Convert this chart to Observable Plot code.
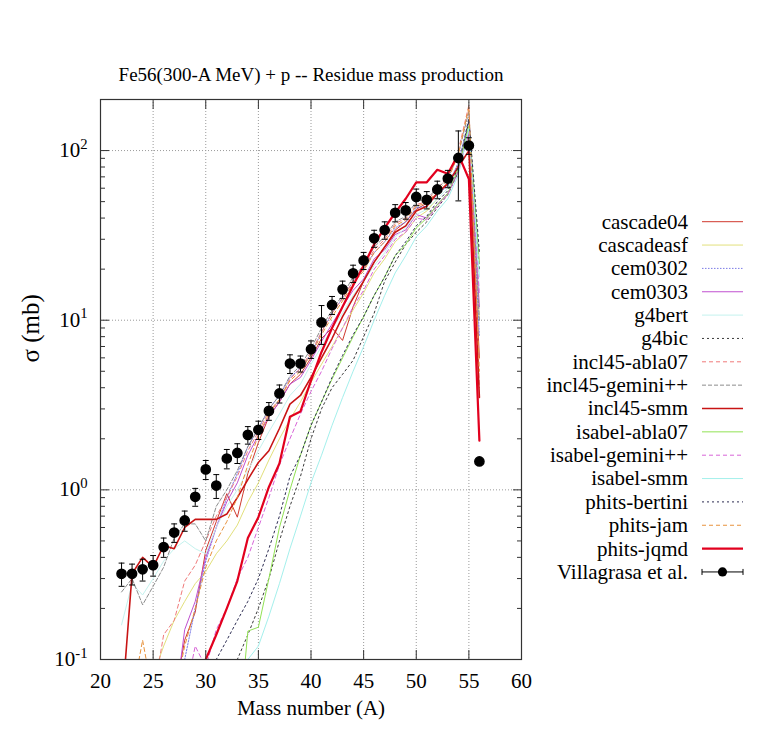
<!DOCTYPE html>
<html><head><meta charset="utf-8">
<script src="https://cdn.jsdelivr.net/npm/d3@7"></script>
<script src="https://cdn.jsdelivr.net/npm/@observablehq/plot@0.6"></script>
<style>body{margin:0;background:#fff} #chart svg, #chart svg text, #chart svg tspan{font-family:"Liberation Serif","DejaVu Serif","Noto Serif",serif !important}</style>
</head><body><div id="chart"></div>
<script>
// Mass numbers
const A = [22,23,24,25,26,27,28,29,30,31,32,33,34,35,36,37,38,39,40,41,42,43,44,45,46,47,48,49,50,51,52,53,54,55,56];

// Experimental data (Villagrasa et al.), mb
const villagrasa = [0.32,0.32,0.34,0.36,0.46,0.56,0.66,0.91,1.32,1.06,1.53,1.65,2.11,2.26,2.92,3.70,5.55,5.55,6.75,9.7,12.3,15.2,18.9,22.5,30.4,34.0,43.0,44.4,53.3,51.3,59,68.4,90.5,107,1.47];
const villagrasaErr = [0.05,0.045,0.05,0.05,0.06,0.07,0.09,0.11,0.17,0.17,0.2,0.22,0.25,0.28,0.35,0.45,0.7,0.6,0.8,2.5,1.5,1.8,2.2,2.6,3.5,4,5,5,6,6,7,8,40,12,0.05];

// Model predictions, mb
const cascade04     = [.01,.01,.01,.01,.02,.06,.13,.19,.44,.65,.95,.69,1.25,1.9,2.7,3.3,4.2,4.8,6.0,7.8,9.0,7.6,12,17,22,27,34,38,45,49,56,63,82,125,6];
const cascadeasf    = [.02,.03,.05,.08,.12,.17,.22,.28,.33,.42,.5,.62,.85,1.1,1.5,2.0,2.6,3.3,4.3,5.5,7,9,11.5,14.5,19,23,29,33,40,44,52,60,80,140,10];
const cem0302       = [.01,.01,.01,.01,.02,.05,.1,.2,.38,.6,.9,1.25,1.8,2.3,3.0,3.6,4.6,5.2,6.3,8.5,11,13.5,17,20,25,29,35,38,46,47,55,62,85,150,8];
const cem0303       = [.01,.01,.01,.01,.02,.05,.15,.22,.4,.6,.85,1.1,1.6,2.1,2.7,3.3,4.2,4.6,5.8,7.5,9.5,12,15,17.5,23,26,32,34,42,40,48,56,75,130,12];
const g4bert        = [.16,.28,.24,.3,.38,.45,.5,.45,.42,.6,.8,1.0,1.3,1.7,2.2,2.8,3.6,4.2,5.5,7,9,11,14,17,21,25,31,35,42,45,52,60,80,140,15];
const g4bic         = [.005,.005,.005,.005,.005,.005,.005,.01,.02,.04,.07,.1,.14,.2,.3,.5,.8,1.2,2.0,3.0,4.0,4.8,5.8,8,11,17,22,28,33,38,46,55,75,150,20];
const incl45_abla07 = [.01,.01,.02,.06,.14,.17,.29,.36,.5,.7,.9,1.2,1.7,2.2,2.9,3.4,4.5,5.2,6.5,8.5,11,13.5,17,20,26,30,37,40,48,50,60,70,100,185,4];
const incl45_gemini = [.25,.3,.21,.27,.35,.52,.63,.63,.5,.8,1.0,1.3,1.8,2.3,3.0,3.6,4.7,5.4,6.8,9,11.5,14,18,21,27,31,38,41,50,52,60,68,95,170,10];
const incl45_smm    = [.05,.32,.40,.35,.47,.45,.60,.67,.67,.67,.72,.9,1.15,1.45,1.7,2.3,3.2,3.6,4.6,6.0,7.8,10.5,13.5,17,22,27,33,36,44,47,56,64,80,100,3.5];
const isabel_abla07 = [.005,.005,.005,.005,.005,.005,.005,.005,.005,.005,.005,.03,.147,.155,.3,.6,1.0,1.6,2.4,3.3,4.5,6,8,10.5,14,18,24,28,35,40,48,56,78,140,22];
const isabel_gemini = [.005,.005,.005,.005,.005,.02,.06,.12,.09,.15,.2,.3,.4,.6,.9,1.4,2.0,2.8,3.8,5,6.8,9,12,15,20,24,30,33,40,39,47,55,75,130,14];
const isabel_smm    = [.005,.005,.005,.005,.005,.005,.005,.005,.005,.005,.005,.05,.1,.12,.18,.28,.45,.7,1.1,1.6,2.4,3.5,5,7,10,14,19,24,31,36,44,52,72,135,18];
const phits_bertini = [.005,.005,.005,.005,.005,.005,.005,.005,.04,.1,.13,.17,.22,.3,.45,.7,1.2,1.6,2.4,3.3,4.6,6.2,8.2,10.5,14,18,24,29,36,41,50,58,80,155,25];
const phits_jam     = [.02,.06,.13,.06,.03,.06,.12,.2,.35,.5,.65,.9,1.4,2.1,2.8,3.4,4.4,5.0,6.3,8.2,10.5,13,16.5,19.5,25,29,36,39,47,49,58,67,95,180,5];
const phits_jqmd    = [.005,.005,.005,.005,.005,.005,.005,.05,.1,.14,.2,.29,.52,.69,1.04,1.43,2.7,2.9,4.4,6.5,9,12,16,21,28,35,43,52,65,65,77,73,95,68,1.95];

const xTicks = [20,25,30,35,40,45,50,55,60];
const yTicks = [0.1,1,10,100];

const models = [
  ["cascade04", cascade04], ["cascadeasf", cascadeasf], ["cem0302", cem0302], ["cem0303", cem0303],
  ["g4bert", g4bert], ["g4bic", g4bic], ["incl45-abla07", incl45_abla07], ["incl45-gemini++", incl45_gemini],
  ["incl45-smm", incl45_smm], ["isabel-abla07", isabel_abla07], ["isabel-gemini++", isabel_gemini],
  ["isabel-smm", isabel_smm], ["phits-bertini", phits_bertini], ["phits-jam", phits_jam], ["phits-jqmd", phits_jqmd]
];

// styles (kept separate from data)
const styles = {
  "cascade04":       {stroke:"#d0392e", w:1,   dash:null},
  "cascadeasf":      {stroke:"#e2e07c", w:1,   dash:null},
  "cem0302":         {stroke:"#7c7ce6", w:1,   dash:"1.5,1.5"},
  "cem0303":         {stroke:"#c050d0", w:1,   dash:null},
  "g4bert":          {stroke:"#c4f2ee", w:1,   dash:null},
  "g4bic":           {stroke:"#3a3a3a", w:1,   dash:"2,3"},
  "incl45-abla07":   {stroke:"#f07a7a", w:1,   dash:"4,3"},
  "incl45-gemini++": {stroke:"#8c8c8c", w:1,   dash:"4,2"},
  "incl45-smm":      {stroke:"#c81414", w:1.6, dash:null},
  "isabel-abla07":   {stroke:"#92e254", w:1,   dash:null},
  "isabel-gemini++": {stroke:"#d864d8", w:1,   dash:"4,3"},
  "isabel-smm":      {stroke:"#a4f0ec", w:1,   dash:null},
  "phits-bertini":   {stroke:"#2c2c52", w:1,   dash:"2,3"},
  "phits-jam":       {stroke:"#e8923c", w:1,   dash:"4,3"},
  "phits-jqmd":      {stroke:"#e2001e", w:2.2, dash:null}
};

const FONT = "Liberation Serif, DejaVu Serif, Noto Serif, serif";

const exp = A.map((a,i) => ({A:a, v:villagrasa[i], lo:villagrasa[i]-villagrasaErr[i], hi:villagrasa[i]+villagrasaErr[i]}));

const minor = [];
for (const d of yTicks) for (let k=2;k<=9;k++) if (d*k <= 200) minor.push(d*k);

const marks = [
  Plot.ruleX(xTicks.slice(1,-1), {stroke:"#9a9a9a", strokeDasharray:"1,2"}),
  Plot.ruleY(yTicks.slice(1), {stroke:"#9a9a9a", strokeDasharray:"1,2"}),
];
for (const [name, vals] of models) {
  const s = styles[name];
  marks.push(Plot.line(A.map((a,i)=>({A:a, v:vals[i]})), {x:"A", y:"v", stroke:s.stroke, strokeWidth:s.w, strokeDasharray:s.dash, clip:true}));
}
marks.push(
  Plot.ruleX(exp, {x:"A", y1:"lo", y2:"hi", stroke:"#000", strokeWidth:1, clip:true}),
  Plot.link(exp, {x1:d=>d.A-0.28, x2:d=>d.A+0.28, y1:"lo", y2:"lo", stroke:"#000"}),
  Plot.link(exp, {x1:d=>d.A-0.28, x2:d=>d.A+0.28, y1:"hi", y2:"hi", stroke:"#000"}),
  Plot.dot(exp, {x:"A", y:"v", r:4.6, fill:"#000", stroke:"#000"}),
  Plot.frame({stroke:"#333", strokeWidth:1.2}),
  Plot.axisX({ticks:xTicks, tickSize:0, tickPadding:14, fontSize:21, label:null, tickFormat:d=>String(d)}),
  Plot.axisX({ticks:xTicks, anchor:"bottom", tickSize:-9, tickFormat:()=>"", label:null, stroke:"#333"}),
  Plot.axisX({ticks:xTicks, anchor:"top", tickSize:-9, tickFormat:()=>"", label:null, stroke:"#333"}),
  Plot.axisY({ticks:yTicks, tickSize:0, tickPadding:13, fontSize:21, label:null, tickFormat:d=>"10^"+Math.round(Math.log10(d))}),
  Plot.axisY({ticks:yTicks, anchor:"left", tickSize:-9, tickFormat:()=>"", label:null, stroke:"#333"}),
  Plot.axisY({ticks:yTicks, anchor:"right", tickSize:-9, tickFormat:()=>"", label:null, stroke:"#333"}),
  Plot.axisY({ticks:minor, anchor:"left", tickSize:-5, tickFormat:()=>"", label:null, stroke:"#333"}),
  Plot.axisY({ticks:minor, anchor:"right", tickSize:-5, tickFormat:()=>"", label:null, stroke:"#333"}),
  Plot.text(["Fe56(300-A MeV) + p -- Residue mass production"], {frameAnchor:"top", dy:-32, fontSize:19, fontFamily:FONT}),
  Plot.text(["Mass number (A)"], {frameAnchor:"bottom", dy:55, fontSize:21, fontFamily:FONT}),
  Plot.text(["\u03C3 (mb)"], {frameAnchor:"left", dx:-70, dy:-17, rotate:-90, fontSize:25, fontFamily:FONT})
);

const chart = Plot.plot({
  width:766, height:750,
  marginLeft:100, marginRight:245, marginTop:99, marginBottom:91,
  x:{type:"linear", domain:[20,60]},
  y:{type:"log", domain:[0.1,200]},
  style:{fontFamily:FONT, background:"#fff", color:"#000"},
  marks
});

const svg = d3.select(chart);
svg.attr("font-family", FONT);
// superscript exponents on y tick labels
svg.selectAll("text").each(function(){
  const t = this.textContent;
  const m = /^10\^(-?\d+)$/.exec(t);
  if (!m) return;
  const s = d3.select(this);
  s.text(null).attr("dy","-0.02em");
  s.append("tspan").text("10");
  s.append("tspan").attr("dy","-0.55em").attr("font-size","0.7em").text(m[1]);
});

// legend
const lg = svg.append("g").attr("font-size",21).attr("font-family",FONT);
const entries = models.map(m=>m[0]).concat(["Villagrasa et al."]);
entries.forEach((name,i) => {
  const y = 221.7 + i*23.35;
  lg.append("text").attr("x",688).attr("y",y).attr("dy","0.33em").attr("text-anchor","end").attr("fill","#000").text(name);
  if (styles[name]) {
    const s = styles[name];
    lg.append("line").attr("x1",702).attr("x2",743).attr("y1",y).attr("y2",y)
      .attr("stroke",s.stroke).attr("stroke-width",s.w).attr("stroke-dasharray",s.dash);
  } else {
    lg.append("line").attr("x1",702).attr("x2",743).attr("y1",y).attr("y2",y).attr("stroke","#000");
    lg.append("line").attr("x1",702).attr("x2",702).attr("y1",y-3).attr("y2",y+3).attr("stroke","#000");
    lg.append("line").attr("x1",743).attr("x2",743).attr("y1",y-3).attr("y2",y+3).attr("stroke","#000");
    lg.append("circle").attr("cx",722.5).attr("cy",y).attr("r",4.6).attr("fill","#000");
  }
});
svg.selectAll("text, tspan").attr("font-family", FONT);

document.getElementById("chart").appendChild(chart);
</script>
</body></html>
